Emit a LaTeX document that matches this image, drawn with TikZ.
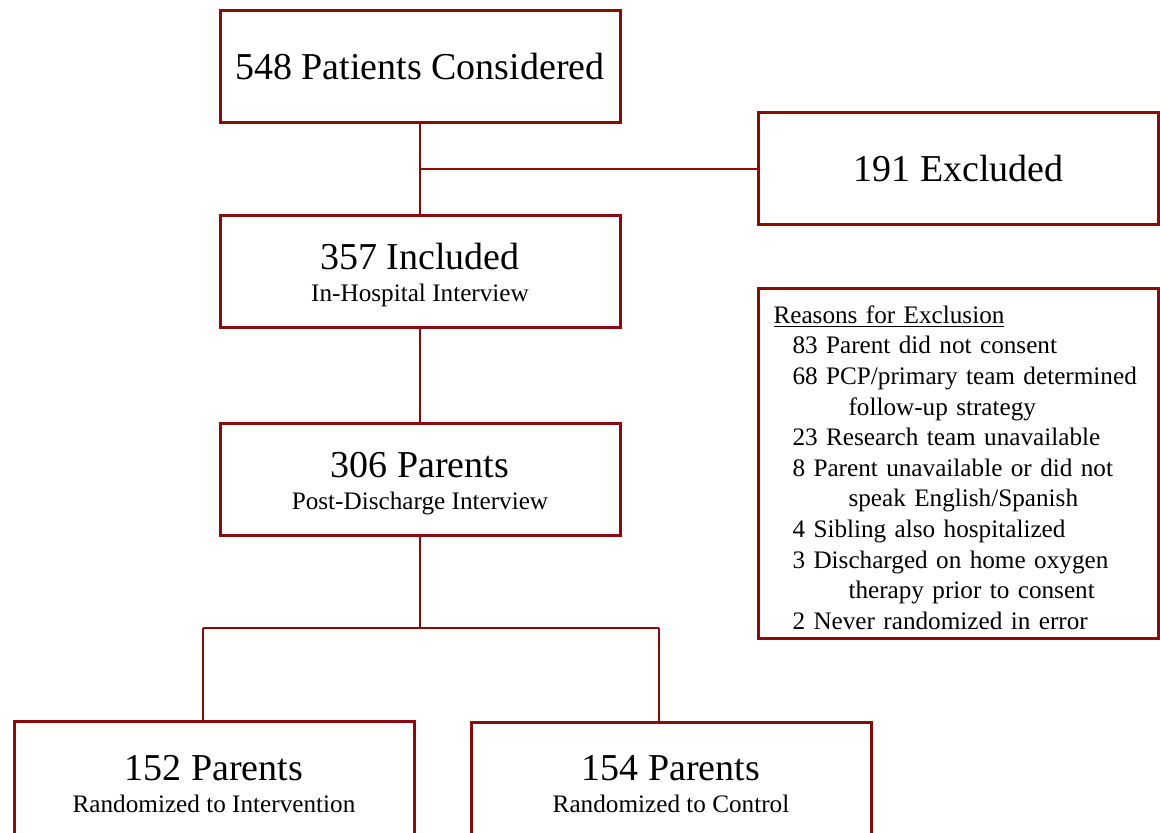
\documentclass[tikz,border=0pt]{standalone}
\usepackage{fontspec}
\setmainfont{Liberation Serif}
\usetikzlibrary{positioning}

\definecolor{boxred}{RGB}{139,10,10}
\newcommand{\bigtxt}{\fontsize{19}{22}\selectfont}
\newcommand{\subtxt}{\fontsize{12.6}{16}\selectfont}
\newcommand{\headline}[1]{{\bigtxt\rule{0pt}{17pt}#1}}

\begin{document}
\begin{tikzpicture}[
        x=0.5pt, y=-0.5pt,
        flowbox/.style={draw=boxred, line width=1.5pt, rectangle, minimum width=200pt, minimum height=56pt, align=center, inner sep=0pt, font=\subtxt},
        link/.style={draw=boxred, line width=1pt}
    ]
    \useasboundingbox (0,0) rectangle (1160,833);

    % Start
    \node[flowbox] (considered) at (420,66.5) {\bigtxt 548 Patients Considered};

    % Ausschluss rechts
    \node[flowbox] (excluded) at (958.5,169) {\bigtxt 191 Excluded};

    % Interviews
    \node[flowbox] (included) at (420,271.5) {\headline{357 Included}\\In-Hospital Interview};
    \node[flowbox] (discharge) at (420,479.5) {\headline{306 Parents}\\Post-Discharge Interview};

    % Gruende
    \node[flowbox, minimum height=175pt, text width=185pt, inner xsep=7.5pt, align=left, font=\fontsize{12.6}{15.3}\selectfont] (reasons) at (958.5,463.75) {\rule{0pt}{12.6pt}\underline{Reasons for Exclusion}\\
        \hspace*{9.5pt}83 Parent did not consent\\
        \hspace*{9.5pt}68 PCP/primary team determined\\
        \hspace*{37.5pt}follow-up strategy\\
        \hspace*{9.5pt}23 Research team unavailable\\
        \hspace*{9.5pt}8 Parent unavailable or did not\\
        \hspace*{37.5pt}speak English/Spanish\\
        \hspace*{9.5pt}4 Sibling also hospitalized\\
        \hspace*{9.5pt}3 Discharged on home oxygen\\
        \hspace*{37.5pt}therapy prior to consent\\
        \hspace*{9.5pt}2 Never randomized in error};

    % Randomisierung
    \node[flowbox, minimum height=58pt] (intervention) at (214,779.5) {\headline{152 Parents}\\Randomized to Intervention};
    \node[flowbox, minimum height=58pt] (control) at (671,780) {\headline{154 Parents}\\Randomized to Control};

    % Verbindungen
    \coordinate (split) at (420,628);
    \coordinate (leftend) at (203,628);
    \coordinate (rightend) at (659,628);
    \draw[link] (considered) -- (included);
    \draw[link] (excluded.west) -- (excluded.west -| considered.south);
    \draw[link] (included) -- (discharge);
    \draw[link] (discharge.south) -- (split);
    \draw[link] (leftend) -- (rightend);
    \draw[link] (leftend) -- (leftend |- intervention.north);
    \draw[link] (rightend) -- (rightend |- control.north);
\end{tikzpicture}
\end{document}
